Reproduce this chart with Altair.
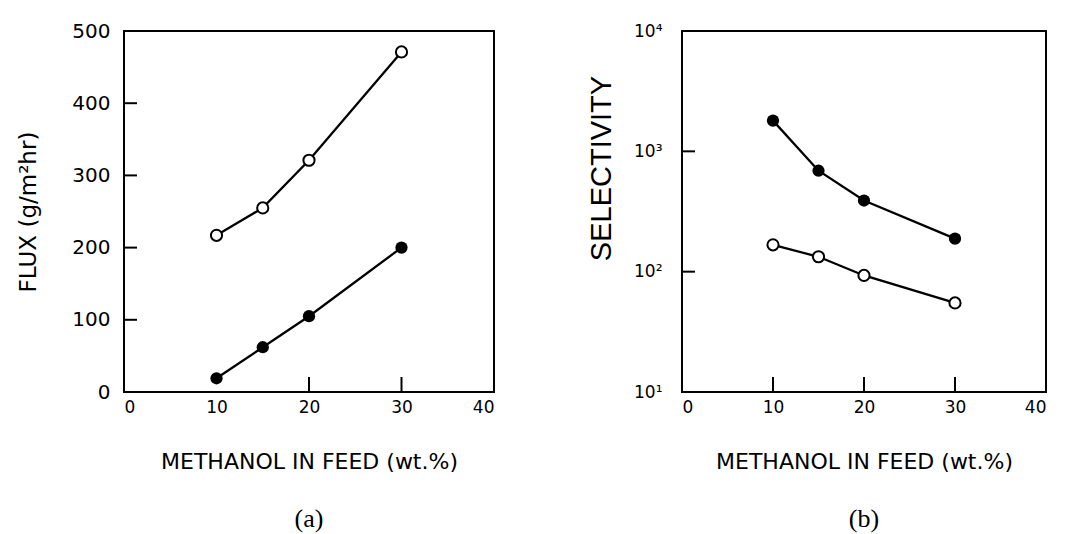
import altair as alt
import pandas as pd

# ---- data ----
methanol = [10, 15, 20, 30]
flux_open = [217, 255, 321, 471]
flux_filled = [19, 62, 105, 200]
sel_filled = [1800, 690, 390, 188]
sel_open = [167, 133, 93, 55]

x_ticks = [0, 10, 20, 30, 40]
flux_ticks = [0, 100, 200, 300, 400, 500]
flux_inner_ticks = [100, 200, 300, 400]
x_inner_ticks_a = [20, 30]
x_inner_ticks_b = [10, 20, 30]
sel_ticks = [10, 100, 1000, 10000]
sel_inner_ticks = [100, 1000]

H = 361
LABEL_FONT = "DejaVu Sans"

flux_df = pd.DataFrame({
    "x": methanol * 2,
    "y": flux_open + flux_filled,
    "s": ["open"] * 4 + ["filled"] * 4,
})
sel_df = pd.DataFrame({
    "x": methanol * 2,
    "y": sel_open + sel_filled,
    "s": ["open"] * 4 + ["filled"] * 4,
})

def xaxis():
    return alt.Axis(values=x_ticks, ticks=False, domain=False, grid=False,
                    labelFont=LABEL_FONT, labelFontSize=17, labelColor="black",
                    labelPadding=7, title="METHANOL IN FEED (wt.%)",
                    titleFont=LABEL_FONT, titleFontSize=22, titleFontWeight="normal",
                    titleColor="black", titlePadding=36)

xscale = alt.Scale(domain=[0, 40], nice=False, zero=False)

def caption(t):
    return alt.TitleParams(t, orient="bottom", font="Liberation Serif",
                           fontSize=26, fontWeight="normal", color="black",
                           anchor="middle", frame="group", offset=34)

def open_pts(df, ys):
    return alt.Chart(df).transform_filter(alt.datum.s == "open").mark_point(
        shape="circle", size=125, fill="white", fillOpacity=1, stroke="black",
        strokeWidth=2, opacity=1).encode(x=alt.X("x:Q", scale=xscale),
                                         y=alt.Y("y:Q", scale=ys))

def filled_pts(df, ys):
    return alt.Chart(df).transform_filter(alt.datum.s == "filled").mark_point(
        shape="circle", size=150, filled=True, color="black", opacity=1).encode(
        x=alt.X("x:Q", scale=xscale), y=alt.Y("y:Q", scale=ys))

# ---------- panel (a) ----------
yscale_a = alt.Scale(domain=[0, 500], nice=False)
line_a = alt.Chart(flux_df).mark_line(color="black", strokeWidth=2.3).encode(
    x=alt.X("x:Q", scale=xscale, axis=xaxis()),
    y=alt.Y("y:Q", scale=yscale_a,
            axis=alt.Axis(values=flux_ticks, ticks=False, domain=False, grid=False,
                          labelFont=LABEL_FONT, labelFontSize=20, labelColor="black",
                          labelPadding=14, title="FLUX (g/m²hr)",
                          titleFont=LABEL_FONT, titleFontSize=23,
                          titleFontWeight="normal", titleColor="black",
                          titlePadding=31)),
    detail="s:N",
)
yt_a = alt.Chart(pd.DataFrame({"v": flux_inner_ticks})).mark_rule(
    color="black", strokeWidth=2).encode(
    y=alt.Y("v:Q", scale=yscale_a), x=alt.value(0), x2=alt.value(13))
xt_a = alt.Chart(pd.DataFrame({"v": x_inner_ticks_a})).mark_rule(
    color="black", strokeWidth=2).encode(
    x=alt.X("v:Q", scale=xscale), y=alt.value(H), y2=alt.value(H - 15))

panel_a = alt.layer(line_a, xt_a, yt_a, open_pts(flux_df, yscale_a),
                    filled_pts(flux_df, yscale_a)).properties(
    width=370, height=H, title=caption("(a)"))

# ---------- panel (b) ----------
yscale_b = alt.Scale(type="log", domain=[10, 10000], nice=False)
sup_expr = ("'10' + (datum.value == 10 ? '¹' : datum.value == 100 ? '²' : "
            "datum.value == 1000 ? '³' : '⁴')")
line_b = alt.Chart(sel_df).mark_line(color="black", strokeWidth=2.3).encode(
    x=alt.X("x:Q", scale=xscale, axis=xaxis()),
    y=alt.Y("y:Q", scale=yscale_b,
            axis=alt.Axis(values=sel_ticks, ticks=False, domain=False, grid=False,
                          labelExpr=sup_expr,
                          labelFont=LABEL_FONT, labelFontSize=17, labelColor="black",
                          labelPadding=20, title="SELECTIVITY",
                          titleFont="Liberation Sans", titleFontSize=29,
                          titleFontWeight="normal", titleColor="black",
                          titlePadding=17, titleY=137)),
    detail="s:N",
)
yt_b = alt.Chart(pd.DataFrame({"v": sel_inner_ticks})).mark_rule(
    color="black", strokeWidth=2).encode(
    y=alt.Y("v:Q", scale=yscale_b), x=alt.value(0), x2=alt.value(13))
xt_b = alt.Chart(pd.DataFrame({"v": x_inner_ticks_b})).mark_rule(
    color="black", strokeWidth=2).encode(
    x=alt.X("v:Q", scale=xscale), y=alt.value(H), y2=alt.value(H - 15))

panel_b = alt.layer(line_b, xt_b, yt_b, open_pts(sel_df, yscale_b),
                    filled_pts(sel_df, yscale_b)).properties(
    width=364, height=H, title=caption("(b)"))

chart = alt.hconcat(panel_a, panel_b, spacing=188, bounds="flush").properties(
    padding={"left": 8, "top": 12, "right": 0, "bottom": 0}
).configure(background="white",
            view=alt.ViewConfig(stroke="black", strokeWidth=2))

chart.save("out.html", embed_options={"renderer": "svg", "actions": False})
